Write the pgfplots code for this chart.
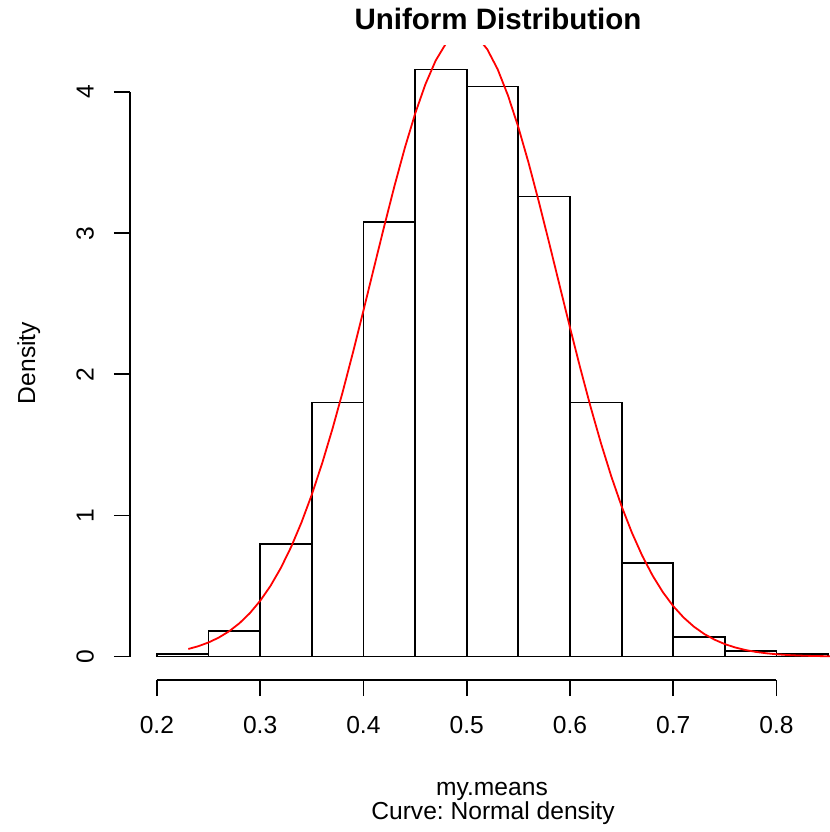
\documentclass[border=0pt]{standalone}
\usepackage{pgfplots}
\pgfplotsset{compat=1.18}
\usepackage{fontspec}
\setmainfont{Liberation Sans}
\frenchspacing
\newcommand\tl{\fontsize{12.3}{14}\selectfont}
\begin{document}
\begin{tikzpicture}
\path[use as bounding box] (0,0) rectangle (415pt,416pt);
\begin{axis}[
  at={(65pt,76pt)}, anchor=south west,
  scale only axis, width=362.5pt, height=317pt,
  xmin=0.174, xmax=0.876, ymin=-0.1664, ymax=4.3264,
  separate axis lines,
  axis x line*=bottom, axis y line*=left,
  x axis line style={line width=0.9pt, shorten <=13.43pt, shorten >=39.27pt},
  y axis line style={line width=0.9pt, shorten <=11.74pt, shorten >=23.03pt},
  xtick={0.2,0.3,0.4,0.5,0.6,0.7,0.8},
  ytick={0,1,2,3,4},
  minor tick num=0,
  tick align=outside,
  major tick length=8pt,
  tick style={black, line width=0.9pt},
  /pgf/number format/assume math mode=true,
  xticklabel style={font=\tl, anchor=base, yshift=-18.8pt},
  yticklabel style={font=\tl, xshift=-10.2pt, rotate=90, anchor=base},
  clip=true,
]
\addplot[ybar interval, draw=black, fill=none, line width=0.9pt] coordinates {
(0.20,0.02) (0.25,0.18) (0.30,0.80) (0.35,1.80) (0.40,3.08) (0.45,4.16)
(0.50,4.04) (0.55,3.26) (0.60,1.80) (0.65,0.66) (0.70,0.14) (0.75,0.04)
(0.80,0.02) (0.85,0.02)};
\addplot[red, line width=0.9pt, no marks] coordinates {
(0.2305,0.0535) (0.24,0.0728) (0.25,0.0995) (0.26,0.1343) (0.27,0.1791)
(0.28,0.2359) (0.29,0.3069) (0.30,0.3942) (0.31,0.5001) (0.32,0.6268)
(0.33,0.7762) (0.34,0.9495) (0.35,1.1467) (0.36,1.3679) (0.37,1.6122)
(0.38,1.8768) (0.39,2.1578) (0.40,2.4504) (0.41,2.7483) (0.42,3.0448)
(0.43,3.3321) (0.44,3.6016) (0.45,3.8449) (0.46,4.0546) (0.47,4.2235)
(0.48,4.3449) (0.49,4.4152) (0.498,4.4327) (0.50,4.4316) (0.51,4.3935)
(0.52,4.3022) (0.53,4.1612) (0.54,3.9754) (0.55,3.7513) (0.56,3.4964)
(0.57,3.2188) (0.58,2.9269) (0.59,2.6289) (0.60,2.3321) (0.61,2.0436)
(0.62,1.7687) (0.63,1.5120) (0.64,1.2767) (0.65,1.0648) (0.66,0.8772)
(0.67,0.7138) (0.68,0.5736) (0.69,0.4555) (0.70,0.3571) (0.71,0.2766)
(0.72,0.2116) (0.73,0.1598) (0.74,0.1193) (0.75,0.0879) (0.76,0.0641)
(0.77,0.0461) (0.78,0.0327) (0.79,0.0230) (0.80,0.0159) (0.81,0.0109)
(0.82,0.0074) (0.83,0.0049) (0.84,0.0032) (0.85,0.0021) (0.86,0.0013)};
\end{axis}
\node[font=\bfseries\fontsize{14.76}{17}\selectfont, anchor=base] at (249pt,401pt) {Uniform Distribution};
\node[font=\tl, anchor=base] at (246pt,18pt) {my.means};
\node[font=\tl, anchor=base] at (246.5pt,6pt) {Curve: Normal density};
\node[font=\tl, rotate=90, anchor=base] at (17.5pt,234.5pt) {Density};
\end{tikzpicture}
\end{document}
